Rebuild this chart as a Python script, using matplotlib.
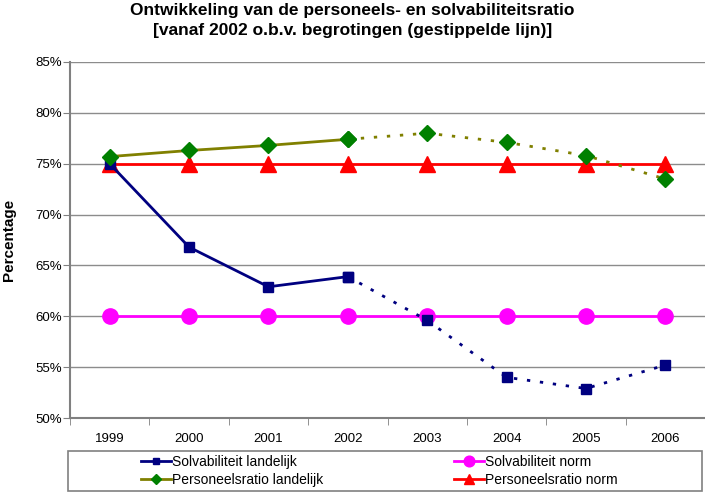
import matplotlib
matplotlib.use("Agg")
import matplotlib.pyplot as plt
from matplotlib.patches import Rectangle

plt.rcParams['font.family'] = ['Liberation Sans', 'DejaVu Sans']

# ---------------------------------------------------------------------------
# Data
# ---------------------------------------------------------------------------
years = ["1999", "2000", "2001", "2002", "2003", "2004", "2005", "2006"]
solv_landelijk = [75.0, 66.8, 62.9, 63.9, 59.6, 54.0, 52.9, 55.2]
solv_norm = [60, 60, 60, 60, 60, 60, 60, 60]
pers_landelijk = [75.7, 76.3, 76.8, 77.4, 78.0, 77.1, 75.8, 73.5]
pers_norm = [75, 75, 75, 75, 75, 75, 75, 75]
n_actual = 4  # 1999-2002 realised, rest budgeted (dotted)

yticks = [50, 55, 60, 65, 70, 75, 80, 85]

fig = plt.figure(figsize=(7.05, 4.92), dpi=100)
ax = fig.add_axes([0.0993, 0.1504, 0.9007, 0.7236])

x = list(range(len(years)))
xa = x[:n_actual]
xb = x[n_actual - 1:]
dots = (0, (1.2, 3.5))

# gridlines
for v in yticks:
    ax.axhline(v, color="#8c8c8c", linewidth=1.0, zorder=0)

# Solvabiliteit norm
h_sn, = ax.plot(x, solv_norm, color="#ff00ff", linewidth=2, marker="o",
                markersize=11, markerfacecolor="#ff00ff", markeredgecolor="#ff00ff",
                zorder=3)

# Solvabiliteit landelijk
h_sl, = ax.plot(xa, solv_landelijk[:n_actual], color="#000080", linewidth=2,
                marker="s", markersize=7, zorder=4)
ax.plot(xb, solv_landelijk[n_actual - 1:], color="#000080", linewidth=2,
        linestyle=dots, marker="s", markersize=7, zorder=4)

# Personeelsratio norm
h_pn, = ax.plot(x, pers_norm, color="#ff0000", linewidth=2, marker="^",
                markersize=11, zorder=3)

# Personeelsratio landelijk
h_pl, = ax.plot(xa, pers_landelijk[:n_actual], color="#808000", linewidth=2,
                marker="D", markersize=8, markerfacecolor="#008000",
                markeredgecolor="#008000", zorder=5)
ax.plot(xb, pers_landelijk[n_actual - 1:], color="#808000", linewidth=2,
        linestyle=dots, marker="D", markersize=8,
        markerfacecolor="#008000", markeredgecolor="#008000", zorder=5)

# axes
ax.set_xlim(-0.5, len(years) - 0.5)
ax.set_ylim(50, 85)
ax.set_yticks(yticks)
ax.set_yticklabels([f"{v}%" for v in yticks], fontsize=9.5)
ax.set_xticks(x)
ax.set_xticklabels(years, fontsize=9.5)
ax.set_xticks([i - 0.5 for i in range(len(years) + 1)], minor=True)
ax.tick_params(axis="x", which="major", length=0, pad=11)
ax.tick_params(axis="x", which="minor", length=5, color="#808080")
ax.tick_params(axis="y", length=5, color="#808080", pad=1)

for side in ["top", "right"]:
    ax.spines[side].set_visible(False)
for side in ["left", "bottom"]:
    ax.spines[side].set_color("#808080")
    ax.spines[side].set_linewidth(1.5)

ax.set_ylabel("Percentage", fontsize=11, fontweight="bold", labelpad=14)
fig.text(0.5, 0.994, "Ontwikkeling van de personeels- en solvabiliteitsratio\n"
         "[vanaf 2002 o.b.v. begrotingen (gestippelde lijn)]",
         ha="center", va="top", fontsize=12.5, fontweight="bold", linespacing=1.4)

# legend box
fig.patches.append(Rectangle((68 / 705, 1 / 492), 634 / 705, 40 / 492,
                             transform=fig.transFigure, fill=False,
                             edgecolor="#808080", linewidth=1.2))
leg = fig.legend([h_sl, h_pl, h_sn, h_pn],
                 ["Solvabiliteit landelijk", "Personeelsratio landelijk",
                  "Solvabiliteit norm", "Personeelsratio norm"],
                 ncol=2, loc="center left", bbox_to_anchor=(0.190, 0.043),
                 fontsize=10, frameon=False, handlelength=2.15, handletextpad=0.1,
                 borderpad=0.0, labelspacing=0.3, columnspacing=9.4,
                 markerscale=0.7)

fig.savefig("out.png", dpi=100)
